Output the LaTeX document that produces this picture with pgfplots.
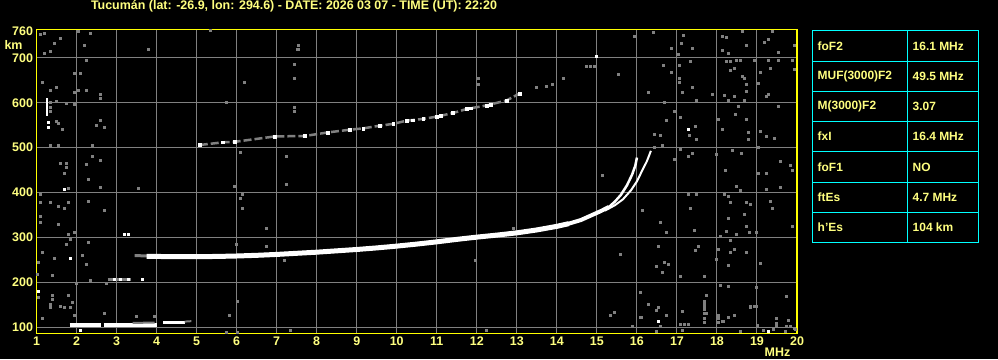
\documentclass[border=0pt]{standalone}
\usepackage{fontspec}
\setmainfont{Liberation Sans}
\usepackage{pgfplots}
\pgfplotsset{compat=1.18}
\usepackage{pgfplotstable}
\definecolor{ytext}{RGB}{255,255,128}
\definecolor{yframe}{RGB}{255,255,0}
\definecolor{gridg}{RGB}{128,128,128}
\definecolor{noisec}{RGB}{128,128,128}
\definecolor{cyanl}{RGB}{0,255,255}

\pgfplotstableread{
x y
1.09 751.7
1.19 754
1.59 744
1.44 731.6
1.34 714.4
1.19 709.2
2.04 759
2.34 754
2.19 727.8
2.24 694.3
2.09 664.5
1.94 664.5
1.14 645.8
1.34 627.2
1.49 634.6
1.94 622
2.04 627
2.24 627
2.59 617.5
2.59 608.5
1.49 602.6
1.74 597.3
1.94 595.1
1.35 600
1.35 590
1.35 580
1.64 541.4
1.49 557.8
1.54 554.8
2.49 550.4
2.59 560
2.69 545
1.34 504.1
1.54 505.6
2.39 505.6
1.59 465.4
1.74 465.4
1.74 455.7
1.69 443
2.24 461.6
2.39 479.5
2.59 470.6
2.29 429.6
2.59 412.4
1.79 409.4
1.09 396
1.09 378.9
1.34 378.9
1.54 369.9
1.69 364
1.79 378.9
2.29 381
2.69 360
1.09 347.5
1.09 334.1
1.54 328.9
1.94 311.7
1.79 306.5
1.74 284.2
1.84 295.3
2.29 289.4
1.14 267
1.44 253.6
2.14 259.6
2.24 239.4
1.04 244.6
1.39 216.3
1.99 198.4
2.34 204.4
2.74 198.4
1.03 217
1.04 166.3
1.39 171.5
1.39 162.6
1.79 171.5
1.34 152.2
1.34 144
1.59 147.7
1.69 144.8
1.84 144
1.89 155.2
1.94 127.5
1.14 120.1
5.83 127.5
6.03 157
5.74 89
6.03 89
7.34 94
12.24 94
2.7 130
3.49 125
3.95 124
5.34 760
3.79 718.8
7.54 727.8
7.54 719
5.95 414.6
6.14 396
6.09 387
6.14 364.7
6.74 320
6.74 280
7.2 249
7.24 479.5
7.24 418.3
6.09 489
5.99 285.7
3.55 410
6.2 644
5.74 599.6
7.45 655
7.45 685
7.53 718.8
7.45 590
7.45 580
12.03 653
12.03 640.5
14.74 681
14.84 681
14.94 681
15.53 663
14.16 653
13.9 640.5
13.74 636
13.49 633
11.98 249
12.91 320.6
15.59 262.4
15.14 439
15.33 127.5
15.45 133.6
15.89 103
16.08 122.4
16.28 152
16.49 138.7
16.41 756.2
15.93 746.5
17.16 748.7
17.12 731.6
16.86 720.4
17.39 720.4
17.03 707
17.34 692
16.66 683.1
17.06 683.1
16.86 666.7
17.06 653.3
17.06 645.8
17.39 634.6
16.29 622
17.14 623.4
17.89 617.5
17.49 604.1
16.69 599.6
16.94 580.2
16.74 560
17.09 567.5
16.44 530.2
16.59 528
17.31 526.5
17.49 519
17.46 547.4
16.94 474.3
17.09 495.2
17.29 480.3
17.39 487.7
16.44 500.4
16.64 504.1
16.14 361
16.59 334.1
16.74 311.7
17.34 365.4
17.44 316.2
17.49 396
17.29 396
17.46 271.5
17.54 280.4
16.54 280.4
16.69 244.6
16.79 239.4
16.49 235.7
16.64 222.3
17.09 213.3
17.69 213.3
17.99 250.6
17.74 171.5
17.14 135
16.74 127.5
16.54 144
16.09 177.5
16.11 121.6
16.59 103
16.49 91
17.09 107.4
17.29 107.4
17.69 147.7
17.74 131.3
18.04 127.5
18.16 112.6
18.29 191
18.09 192.4
18.29 237.2
18.04 273
18.33 267
18.44 274.5
18.74 267
18.33 293.9
18.09 302.8
18.24 313.2
18.49 307.3
18.81 310.2
18.99 311.7
18.74 325.2
18.29 343.1
18.34 378.9
18.19 396
18.29 392.3
18.74 378.9
18.84 373.6
18.69 351.3
18.49 414.7
18.59 405.7
18.21 448.2
18.39 492.9
18.61 487.7
17.99 485.5
18.04 563.8
18.14 541.4
18.46 573.5
18.74 563.8
18.79 534
18.79 517.6
18.54 591.4
18.69 604.8
18.29 604.1
18.19 616
18.44 614.5
18.74 639.8
18.69 653.3
18.63 659.2
18.74 624.9
18.34 671.9
18.44 675.6
18.24 692
18.34 692
18.49 693.5
18.59 693.5
18.93 693.5
18.14 715.9
18.29 710
18.24 744.2
18.14 746.5
18.64 759
18.74 727.8
19.39 759
19.19 733.8
19.29 741.3
19.54 710.7
19.94 727.8
19.29 694.3
19.54 694.3
19.89 694.3
19.94 674.2
19.09 666.7
19.34 675.6
19.04 642.1
19.29 617.5
19.24 613.8
19.54 590.6
19.09 537
19.24 525
19.44 520.5
19.04 499.7
19.59 468.3
19.84 459.4
19.04 441.5
19.24 443
19.89 448.2
19.59 410.9
19.24 407.2
19.34 381.1
19.39 364.7
19.89 325.2
19.09 241.6
18.99 188.7
18.99 146.2
18.84 144.7
19.49 120.1
19.74 168.5
19.79 116.4
19.49 108.9
19.41 95.5
19.74 101.5
19.94 97.7
19.95 95.5
17.14 94
17.2 107.4
17.7 110
17.7 120
17.7 130
17.7 140
17.7 150
17.7 158
18.03 110
18.03 120
18.14 112.6
18.28 122
18.45 127.5
18.59 90
18.84 146
18.95 146
19.01 105
19.16 94
19.49 101.5
19.7 90
19.78 116
19.84 101.5
}\noisetab

\pgfplotstableread{
x y
1.69 408.7
1.84 254.3
1.04 179.7
17.29 541.4
19.29 92
16.54 114.8
3.2 307
3.3 307
1.3 557
1.3 546
14.98 704
2.1 94
}\whitedots

\begin{document}
\begin{tikzpicture}[x=1bp,y=1bp]
\fill[black] (0,0) rectangle (998,359);
\path[use as bounding box] (0,0) rectangle (998,359);
\begin{axis}[
  at={(36.5bp,25.7bp)}, anchor=south west,
  width=760.5bp, height=303.8bp, scale only axis,
  xmin=1, xmax=20, ymin=87, ymax=763,
  xtick={1,2,...,20}, ytick={100,200,...,700},
  extra y ticks={760}, extra y tick style={grid=none},
  major tick length=0pt,
  grid=major, major grid style={gridg, line width=1bp},
  axis line style={yframe, line width=1.5bp},
  tick label style={text=ytext, font=\bfseries\fontsize{12.5}{12.5}\selectfont},
  /pgf/number format/assume math mode=true,
  /pgf/number format/1000 sep={},
]
% noise
\addplot[only marks, mark=square*, mark size=1bp, mark options={fill=noisec, draw=noisec, line width=0pt}] table[x=x,y=y] {\noisetab};
% Es trace
\addplot[white, line width=4bp] coordinates {(1.83,106) (2.62,106)};
\addplot[white, line width=4bp] coordinates {(2.68,105) (4.0,105)};
\addplot[noisec, line width=2bp] coordinates {(3.4,110) (3.95,111)};
\addplot[white, line width=3bp] coordinates {(4.17,111) (4.7,111)};
\addplot[noisec, line width=2bp] coordinates {(4.7,113) (4.87,114)};
% 2Es
\addplot[noisec, line width=3bp] coordinates {(2.78,206) (3.37,206)};
\addplot[only marks, mark=square*, mark size=1bp, mark options={fill=white, draw=white}] coordinates {(2.95,208) (3.08,208) (3.28,208) (3.65,208)};
% left vertical
\addplot[white, line width=2bp] coordinates {(1.27,571) (1.27,611)};
% F2 main trace
\addplot[noisec, line width=3bp] coordinates {(3.45,260) (3.8,259)};
\addplot[white, line width=5bp] coordinates {
(3.75,258) (4.0,258) (4.5,257.5) (5.0,257.5) (5.5,258) (6.0,259) (6.5,260.5)
(7.0,262.5) (7.5,265) (8.0,267.5) (8.5,270.5) (9.0,273.5) (9.5,277) (10.0,281)
(10.5,285.5) (11.0,290.5) (11.5,296) (12.0,301) (12.5,305.5) (13.0,310.5)
(13.5,317) (14.0,325) (14.3,331)};
\addplot[white, line width=4bp] coordinates {(14.0,325) (14.3,331) (14.6,339) (14.9,351) (15.1,359) (15.3,368)};
% O trace
\addplot[white, line width=2.5bp] coordinates {(15.1,359) (15.3,368) (15.45,380) (15.6,395) (15.75,416) (15.88,440) (15.96,460) (16.0,478)};
% X trace
\addplot[white, line width=2bp] coordinates {(15.2,360) (15.45,372) (15.65,385) (15.85,405) (16.0,425) (16.12,447) (16.25,470) (16.35,493)};
% 2F trace
\addplot[noisec, line width=2.5bp, dash pattern=on 8bp off 3bp] coordinates {
(5.08,506) (5.66,512) (5.95,513) (6.95,525) (7.7,526) (8.28,534) (8.83,540) (9.16,543)
(9.58,549) (9.91,553) (10.24,560) (10.66,564) (10.99,569) (11.4,577) (11.74,586)
(12.24,594) (12.74,605) (13.08,621)};
\addplot[only marks, mark=square*, mark size=1.4bp, mark options={fill=white, draw=white}] coordinates {
(5.08,506) (5.66,512) (5.95,513) (6.95,525) (7.7,526) (8.28,534) (8.83,540) (9.16,543)
(9.58,549) (9.91,553) (10.24,560) (10.4,561) (10.66,564) (10.99,569) (11.1,571) (11.4,577) (11.74,586) (11.85,588)
(12.24,594) (12.35,596) (12.74,605) (13.08,621)};
\addplot[only marks, mark=square*, mark size=1bp, mark options={fill=white, draw=white}] table[x=x,y=y] {\whitedots};
\end{axis}
% labels
\node[text=ytext, font=\bfseries\fontsize{12.5}{12.5}\selectfont, inner sep=0] at (294,352.5) {Tucumán (lat: -26.9, lon: 294.6) - DATE: 2026 03 07 - TIME (UT): 22:20};
\node[text=ytext, font=\bfseries\fontsize{12.5}{12.5}\selectfont, inner sep=0] at (13.5,314) {km};
\node[text=ytext, font=\bfseries\fontsize{12.5}{12.5}\selectfont, inner sep=0] at (777.5,7) {MHz};
% table
\draw[cyanl, line width=1bp] (812,116.7) rectangle (978,328.7);
\draw[cyanl, line width=1bp] (907,116.7) -- (907,328.7);
\foreach \yy in {297.3,267.7,237.7,207.3,176.3,146.3} \draw[cyanl, line width=1bp] (812,\yy) -- (978,\yy);
\begin{scope}[every node/.style={text=ytext, font=\bfseries\fontsize{12}{12}\selectfont, inner sep=0, anchor=west}]
\node at (817.5,313) {foF2};          \node at (912.5,313) {16.1 MHz};
\node at (817.5,282.5) {MUF(3000)F2}; \node at (912.5,282.5) {49.5 MHz};
\node at (817.5,252.7) {M(3000)F2};   \node at (912.5,252.7) {3.07};
\node at (817.5,222.5) {fxI};         \node at (912.5,222.5) {16.4 MHz};
\node at (817.5,191.8) {foF1};        \node at (912.5,191.8) {NO};
\node at (817.5,161.3) {ftEs};        \node at (912.5,161.3) {4.7 MHz};
\node at (817.5,131.5) {h'Es};        \node at (912.5,131.5) {104 km};
\end{scope}
\end{tikzpicture}
\end{document}
